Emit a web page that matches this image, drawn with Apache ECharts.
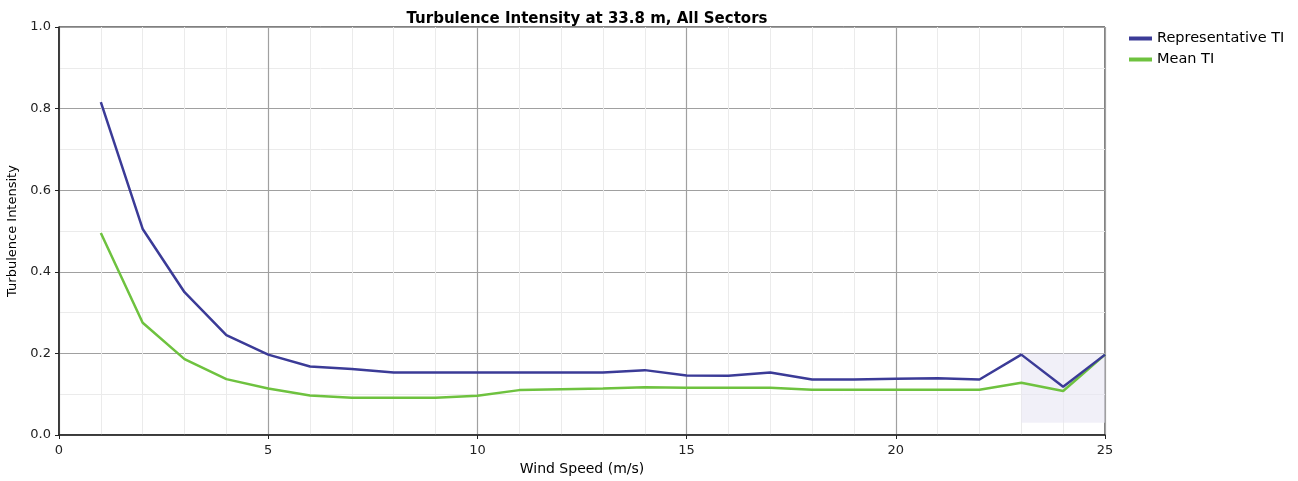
<!DOCTYPE html>
<html><head><meta charset="utf-8">
<script src="https://cdn.jsdelivr.net/npm/echarts@6/dist/echarts.min.js"></script>
<style>html,body{margin:0;padding:0;background:#fff}#c{width:1298px;height:481px}</style>
</head><body><div id="c"></div>
<script>
const windSpeed = [1,2,3,4,5,6,7,8,9,10,11,12,13,14,15,16,17,18,19,20,21,22,23,24,25];
const representativeTI = [0.816,0.505,0.350,0.245,0.197,0.168,0.162,0.153,0.153,0.153,0.153,0.153,0.153,0.159,0.146,0.145,0.153,0.136,0.136,0.138,0.139,0.136,0.197,0.118,0.197];
const meanTI = [0.495,0.275,0.186,0.137,0.114,0.097,0.091,0.091,0.091,0.096,0.110,0.112,0.114,0.117,0.116,0.116,0.116,0.111,0.111,0.111,0.111,0.111,0.128,0.108,0.197];
const seriesNames = ['Representative TI','Mean TI'];
const titleText = 'Turbulence Intensity at 33.8 m, All Sectors';

const FONT = 'DejaVu Sans';
const chart = echarts.init(document.getElementById('c'));
const pair = (xs, ys) => xs.map((x,i)=>[x, ys[i]]);
chart.setOption({
  animation:false,
  backgroundColor:'#fff',
  title:{text:titleText,left:582,top:7,textAlign:'center',textStyle:{fontFamily:FONT,fontSize:15,fontWeight:'bold',color:'#000'}},
  legend:{left:1124,top:26,orient:'vertical',itemWidth:23,itemHeight:4,itemGap:6,icon:'rect',
    textStyle:{fontFamily:FONT,fontSize:14.5,color:'#000'},data:seriesNames},
  grid:{left:59,right:193,top:27,bottom:46,show:true,borderColor:'#000',borderWidth:1,outerBoundsMode:'none'},
  xAxis:[{type:'value',min:0,max:25,interval:5,
    name:'Wind Speed (m/s)',nameLocation:'middle',nameGap:27,nameTextStyle:{fontFamily:FONT,fontSize:14,color:'#000'},
    axisLine:{show:true,lineStyle:{color:'#222',width:1.5}},axisTick:{show:true,length:4,lineStyle:{color:'#222'}},
    axisLabel:{fontFamily:FONT,fontSize:13,color:'#222',margin:9},
    splitLine:{show:true,lineStyle:{color:'#a0a0a0',width:1.2}},
    minorTick:{show:false,splitNumber:5},minorSplitLine:{show:true,lineStyle:{color:'#ebebeb',width:1}}}],
  yAxis:[{type:'value',min:0,max:1,interval:0.2,
    name:'Turbulence Intensity',nameLocation:'middle',nameGap:36,nameTextStyle:{fontFamily:FONT,fontSize:13,color:'#000'},
    axisLine:{show:true,lineStyle:{color:'#222',width:1.5}},axisTick:{show:true,length:4,lineStyle:{color:'#222'}},
    axisLabel:{fontFamily:FONT,fontSize:13,color:'#222',margin:8,formatter:v=>v.toFixed(1)},
    splitLine:{show:true,lineStyle:{color:'#a0a0a0',width:1.2}},
    minorTick:{show:false,splitNumber:2},minorSplitLine:{show:true,lineStyle:{color:'#ebebeb',width:1}}}],
  series:[
    {name:seriesNames[0],type:'line',data:pair(windSpeed,representativeTI),showSymbol:false,
      lineStyle:{color:'#3b3b97',width:2.5},itemStyle:{color:'#3b3b97'},z:3,
      markArea:{silent:true,itemStyle:{color:'rgba(232,230,244,0.6)'},data:[[{xAxis:23,yAxis:0.03},{xAxis:25,yAxis:0.2}]]}},
    {name:seriesNames[1],type:'line',data:pair(windSpeed,meanTI),showSymbol:false,
      lineStyle:{color:'#6ec23f',width:2.5},itemStyle:{color:'#6ec23f'},z:2}
  ]
});
</script></body></html>
